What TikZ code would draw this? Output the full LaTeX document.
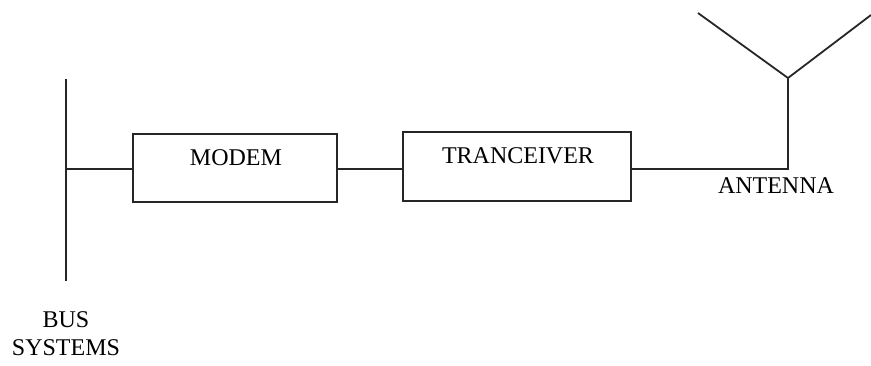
\documentclass[tikz,border=0pt]{standalone}
\usepackage{fontspec}
\setmainfont{Liberation Serif}
\begin{document}
\begin{tikzpicture}[x=1pt,y=-1pt,
  wire/.style={line width=1.8pt,black!85},
  blockbox/.style={draw,line width=2pt,black!85,rectangle,inner sep=0pt},
  lbl/.style={font=\fontsize{24}{26}\selectfont,inner sep=0pt,text=black}]
\useasboundingbox (0,0) rectangle (871,365);
% bus
\coordinate (bustop) at (66,79);
\coordinate (busbot) at (66,281);
\coordinate (busjoin) at (66,169);
\draw[wire] (bustop) -- (busbot);
% boxes
\node[blockbox,minimum width=204pt,minimum height=68pt] (modem) at (235,168) {};
\node[lbl] (modemtxt) at (236,158) {MODEM};
\node[blockbox,minimum width=228pt,minimum height=69pt] (trx) at (517,166) {};
\node[lbl] (trxtxt) at (518,156) {TRANCEIVER};
% connectors
\draw[wire] (busjoin) -- (modem.west |- busjoin);
\draw[wire] (modem.east |- busjoin) -- (trx.west |- busjoin);
\coordinate (ant) at (788,169);
\coordinate (antfork) at (788,78);
\coordinate (antl) at (698,13);
\coordinate (antr) at (871,15);
\draw[wire] (trx.east |- ant) -- (ant) -- (antfork);
\draw[wire] (antl) -- (antfork) -- (antr);
% labels
\node[lbl] (antxt) at (776,186) {ANTENNA};
\node[lbl] (bus) at (66,320) {BUS};
\node[lbl] (sys) at (66,348) {SYSTEMS};
\end{tikzpicture}
\end{document}
